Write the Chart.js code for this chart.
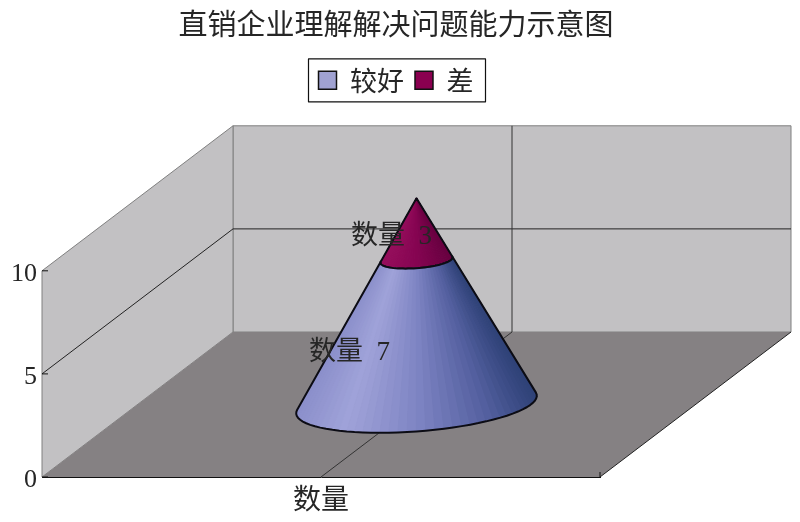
<!DOCTYPE html>
<html>
<head>
<meta charset="utf-8">
<script src="https://cdn.jsdelivr.net/npm/chart.js@4/dist/chart.umd.js"></script>
<style>
  body { margin: 0; background: #fff; }
</style>
</head>
<body>
<canvas id="chart_cone" width="800" height="522"></canvas>
<script>
var categories = ['数量'];
var series_names = ['较好', '差'];
var values_good = [7];
var values_bad = [3];
var y_ticks = [0, 5, 10];
var title_text = '直销企业理解解决问题能力示意图';

var font_family = '"Liberation Serif", "Noto Sans CJK SC", serif';
var cjk_family = '"Noto Sans CJK SC", serif';
var text_color = '#262626';
var depth_x = 191;
var depth_y = -145;
var cone_depth = 0.39;

// where each data label sits: value on the cone axis, and shift from the axis
var label_at = [2.5, 8.15];
var label_shift = [-67, -25];

var blue_stops = [[0, [140, 144, 204]], [0.2, [160, 163, 217]], [0.5, [127, 133, 196]], [0.8, [84, 96, 160]], [1, [47, 66, 120]]];
var red_stops = [[0, [150, 14, 92]], [0.5, [134, 4, 82]], [1, [104, 0, 64]]];
var stops_by_dataset = [blue_stops, red_stops];

function shade(stops, u) {
  for (var i = 1; i < stops.length; i++) {
    if (u <= stops[i][0]) {
      var a = stops[i - 1], b = stops[i];
      var f = (u - a[0]) / (b[0] - a[0]);
      return 'rgb(' + a[1].map(function (c, k) { return Math.round(c + (b[1][k] - c) * f); }).join(',') + ')';
    }
  }
  return 'rgb(' + stops[stops.length - 1][1].join(',') + ')';
}

// bar controller that keeps the stacked bar geometry but paints a cone
class ConeController extends Chart.BarController {
  draw() {
    var ctx = this.chart.ctx;
    var meta = this.getMeta();
    var el = meta.data[0];
    var yScale = meta.vScale;
    var i = this.index;
    var full = yScale.bottom - yScale.top;
    var cx = el.x + depth_x / 2;
    var rx = el.width / 2;
    var dy = -depth_y / 2 * cone_depth;
    var dx = depth_x / 2 * cone_depth;

    function point(t, pixel) {
      var r = (pixel - yScale.top) / full;
      return {
        x: cx + r * (rx * Math.cos(t) + dx * Math.sin(t)),
        y: pixel + depth_y / 2 - r * dy * Math.sin(t)
      };
    }

    // silhouette tangents seen from the apex
    var t_left = Math.PI, t_right = 2 * Math.PI, lo = Infinity, hi = -Infinity;
    for (var t = Math.PI - 1; t < 2 * Math.PI + 1; t += 0.005) {
      var p = point(t, yScale.bottom);
      var m = (p.x - cx) / (p.y - (yScale.top + depth_y / 2));
      if (m < lo) { lo = m; t_left = t; }
      if (m > hi) { hi = m; t_right = t; }
    }

    var steps = 44;
    var low = el.base, high = el.y;
    var span = Math.sqrt(rx * rx + dx * dx);
    for (var s = 0; s < steps; s++) {
      var t0 = t_left + (t_right - t_left) * s / steps;
      var t1 = t_left + (t_right - t_left) * (s + 1) / steps;
      var mid = point((t0 + t1) / 2, yScale.bottom);
      var col = shade(stops_by_dataset[i], Math.min(1, Math.max(0, (mid.x - cx + span) / (2 * span))));
      var a = point(t0, low), b = point(t1, low), c = point(t1, high), d = point(t0, high);
      ctx.beginPath();
      ctx.moveTo(a.x, a.y); ctx.lineTo(b.x, b.y); ctx.lineTo(c.x, c.y); ctx.lineTo(d.x, d.y);
      ctx.closePath();
      ctx.fillStyle = col;
      ctx.strokeStyle = col;
      ctx.lineWidth = 1;
      ctx.fill();
      ctx.stroke();
    }

    // outline
    ctx.beginPath();
    for (var s2 = 0; s2 <= steps; s2++) {
      var q = point(t_left + (t_right - t_left) * s2 / steps, low);
      if (s2 === 0) ctx.moveTo(q.x, q.y); else ctx.lineTo(q.x, q.y);
    }
    for (var s3 = steps; s3 >= 0; s3--) {
      var w = point(t_left + (t_right - t_left) * s3 / steps, high);
      ctx.lineTo(w.x, w.y);
    }
    ctx.closePath();
    ctx.strokeStyle = '#0c0c14';
    ctx.lineWidth = 2;
    ctx.lineJoin = 'round';
    ctx.stroke();

    // data label
    ctx.fillStyle = text_color;
    ctx.font = '27px ' + font_family;
    ctx.textAlign = 'center';
    ctx.textBaseline = 'middle';
    ctx.fillText(categories[0] + '  ' + this.getDataset().data[0],
      cx + label_shift[i], yScale.getPixelForValue(label_at[i]) + depth_y / 2);
  }
}
ConeController.id = 'cone';
ConeController.defaults = Chart.BarController.defaults;
ConeController.overrides = Chart.BarController.overrides;
Chart.register(ConeController);

var walls_plugin = {
  id: 'walls',
  beforeDatasetsDraw: function (chart) {
    var ctx = chart.ctx;
    var area = chart.chartArea;
    var y = chart.scales.y;
    var x = chart.scales.x;
    var l = area.left, r = area.right, t = area.top, b = area.bottom;

    function poly(points, fill, stroke) {
      ctx.beginPath();
      points.forEach(function (p, i) { if (i) ctx.lineTo(p[0], p[1]); else ctx.moveTo(p[0], p[1]); });
      ctx.closePath();
      ctx.fillStyle = fill;
      ctx.fill();
      if (stroke) { ctx.strokeStyle = stroke; ctx.lineWidth = 1; ctx.stroke(); }
    }
    function line(x0, y0, x1, y1, color) {
      ctx.beginPath();
      ctx.moveTo(x0, y0);
      ctx.lineTo(x1, y1);
      ctx.strokeStyle = color;
      ctx.lineWidth = 1;
      ctx.stroke();
    }

    ctx.save();
    // back wall, side wall, floor
    poly([[l + depth_x, t + depth_y], [r + depth_x, t + depth_y], [r + depth_x, b + depth_y], [l + depth_x, b + depth_y]], '#c2c1c3', '#808080');
    poly([[l, t], [l + depth_x, t + depth_y], [l + depth_x, b + depth_y], [l, b]], '#c2c1c3', '#808080');
    poly([[l, b], [r, b], [r + depth_x, b + depth_y], [l + depth_x, b + depth_y]], '#858183');
    line(r, b, r + depth_x, b + depth_y, '#222');

    // grid lines taken from the axis ticks
    y.ticks.forEach(function (tick) {
      var py = y.getPixelForValue(tick.value);
      if (tick.value > y.min && tick.value < y.max) {
        line(l, py, l + depth_x, py + depth_y, '#222');
        line(l + depth_x, py + depth_y, r + depth_x, py + depth_y, '#222');
      }
      line(l, py, l + 6, py, '#111');
    });
    var px = x.getPixelForValue(0);
    line(px, b, px + depth_x, b + depth_y, '#333');
    line(px + depth_x, b + depth_y, px + depth_x, t + depth_y, '#333');
    line(r, b, r, b - 5, '#111');
    ctx.restore();
  }
};

var legend_frame_plugin = {
  id: 'legend_frame',
  afterDraw: function (chart) {
    var boxes = chart.legend.legendHitBoxes;
    var first = boxes[0], last = boxes[boxes.length - 1];
    var cy = first.top + first.height / 2;
    var ctx = chart.ctx;
    ctx.save();
    ctx.strokeStyle = '#111';
    ctx.lineWidth = 1.2;
    ctx.strokeRect(first.left - 10, cy - 21.5, last.left + last.width - first.left + 22, 43);
    ctx.restore();
  }
};

var ctx = document.getElementById('chart_cone').getContext('2d');
var chart = new Chart(ctx, {
  type: 'cone',
  data: {
    labels: categories,
    datasets: [{
      label: series_names[0],
      data: values_good,
      backgroundColor: '#a0a2d2',
      borderColor: '#111',
      borderWidth: 1.5,
      barPercentage: 0.41,
      categoryPercentage: 1,
      clip: false
    }, {
      label: series_names[1],
      data: values_bad,
      backgroundColor: '#8a0050',
      borderColor: '#111',
      borderWidth: 1.5,
      barPercentage: 0.41,
      categoryPercentage: 1,
      clip: false
    }]
  },
  options: {
    responsive: false,
    animation: false,
    layout: { padding: { right: 8 } },
    plugins: {
      title: {
        display: true,
        text: title_text,
        color: text_color,
        font: { family: cjk_family, size: 29, weight: 'normal', lineHeight: 1.2 },
        padding: { top: 7, bottom: 14 }
      },
      legend: {
        position: 'top',
        labels: {
          boxWidth: 18,
          boxHeight: 18,
          padding: 11,
          color: text_color,
          font: { family: cjk_family, size: 27 }
        }
      },
      tooltip: { enabled: false }
    },
    scales: {
      x: {
        stacked: true,
        grid: { display: false, drawTicks: false },
        border: { color: '#111' },
        ticks: { color: text_color, padding: 8, font: { family: font_family, size: 28 } },
        afterFit: function (s) { s.height = 45; }
      },
      y: {
        stacked: true,
        min: 0,
        max: 10,
        grid: { display: false, drawTicks: false },
        border: { color: '#111' },
        ticks: { stepSize: 5, color: text_color, padding: 5, labelOffset: 3, font: { family: font_family, size: 26 } },
        afterBuildTicks: function (s) { s.ticks = y_ticks.map(function (v) { return { value: v }; }); },
        afterFit: function (s) { s.width = 42; }
      },
      // empty axes that only reserve room for the 3D depth
      depth_top: {
        axis: 'x',
        position: 'top',
        grid: { display: false },
        border: { display: false },
        ticks: { display: false },
        afterFit: function (s) { s.height = 167; }
      },
      depth_right: {
        axis: 'y',
        position: 'right',
        grid: { display: false },
        border: { display: false },
        ticks: { display: false },
        afterFit: function (s) { s.width = 192; }
      }
    }
  },
  plugins: [walls_plugin, legend_frame_plugin]
});
</script>
</body>
</html>
